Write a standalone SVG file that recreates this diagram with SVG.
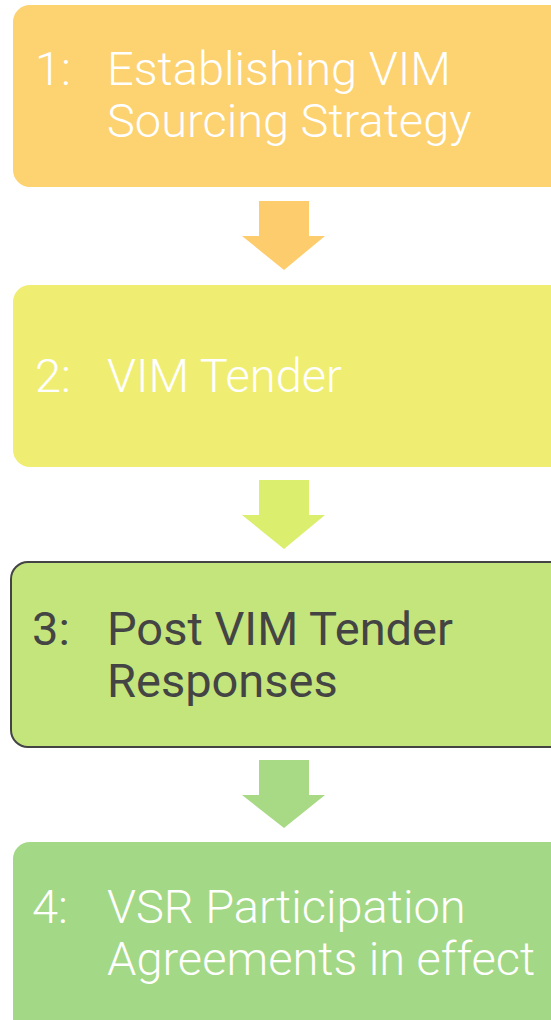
<svg xmlns="http://www.w3.org/2000/svg" width="551" height="1020" viewBox="0 0 551 1020">
<style>
.t{font-family:Roboto,"Liberation Sans",sans-serif;font-weight:300;font-size:47px;fill:#ffffff}
.d{fill:#444444;font-weight:400}
</style>
<rect width="551" height="1020" fill="#ffffff"/>
<g id="connectors">
<polygon points="259,201 309,201 309,236 325,236 284,270 242,236 259,236" fill="#FDCD6D"/>
<polygon points="259,480 309,480 309,515 325,515 284,549 242,515 259,515" fill="#DCEE6E"/>
<polygon points="259,760 309,760 309,795 325,795 284,828 242,795 259,795" fill="#A8DA85"/>
</g>
<g id="node1">
<rect x="13" y="5" width="560" height="182" rx="17" fill="#FDD270"/>
<text class="t" x="35" y="85">1:</text>
<text class="t" x="107" y="85">Establishing VIM</text>
<text class="t" x="107" y="137">Sourcing Strategy</text>
</g>
<g id="node2">
<rect x="13" y="285" width="560" height="182" rx="17" fill="#EFEE72"/>
<text class="t" x="35" y="392">2:</text>
<text class="t" x="107" y="392">VIM Tender</text>
</g>
<g id="node3">
<rect x="11" y="562" width="560" height="185" rx="17" fill="#C3E57C" stroke="#444444" stroke-width="2"/>
<text class="t d" x="32" y="645">3:</text>
<text class="t d" x="107" y="645">Post VIM Tender</text>
<text class="t d" x="107" y="697">Responses</text>
</g>
<g id="node4">
<rect x="13" y="842" width="560" height="200" rx="17" fill="#A3D886"/>
<text class="t" x="32" y="923">4:</text>
<text class="t" x="107" y="923">VSR Participation</text>
<text class="t" x="107" y="975">Agreements in effect</text>
</g>
</svg>
